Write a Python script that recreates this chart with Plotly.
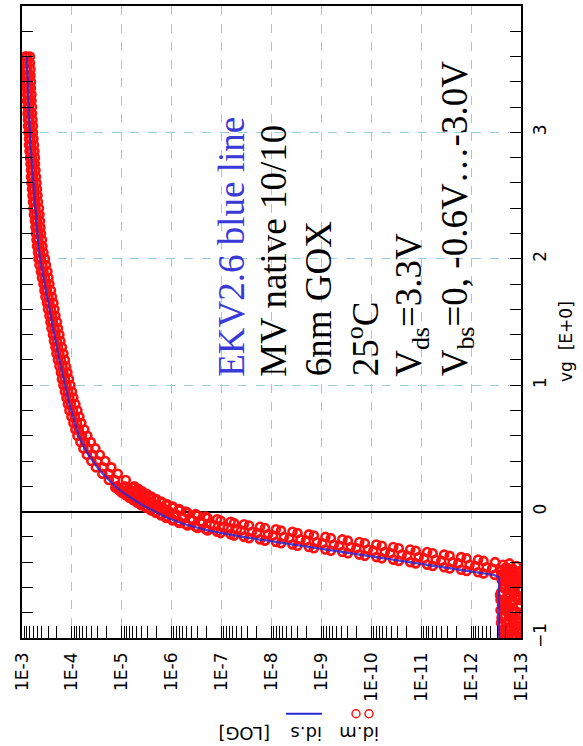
import numpy as np
import plotly.graph_objects as go

# ---------------- data: vg [V] and log10(id) ----------------
# measured gate-voltage grid: floor region, subthreshold (fine), strong inversion
vg_floor = [-1.00, -0.98, -0.96, -0.94, -0.92, -0.90, -0.88, -0.86, -0.84, -0.82,
            -0.80, -0.78, -0.76, -0.74, -0.72, -0.70, -0.68, -0.66, -0.64, -0.62,
            -0.60, -0.58, -0.56]
vg_sub = [-0.55, -0.54, -0.53, -0.52, -0.51,
          -0.50, -0.49, -0.48, -0.47, -0.46, -0.45, -0.44, -0.43, -0.42, -0.41,
          -0.40, -0.39, -0.38, -0.37, -0.36, -0.35, -0.34, -0.33, -0.32, -0.31,
          -0.30, -0.29, -0.28, -0.27, -0.26, -0.25, -0.24, -0.23, -0.22, -0.21,
          -0.20, -0.19, -0.18, -0.17, -0.16, -0.15, -0.14, -0.13, -0.12, -0.11,
          -0.10, -0.09, -0.08, -0.07, -0.06, -0.05, -0.04, -0.03, -0.02, -0.01,
          0.00, 0.01, 0.02, 0.03, 0.04, 0.05, 0.06, 0.07, 0.08, 0.09,
          0.10, 0.11, 0.12, 0.13, 0.14, 0.15, 0.16, 0.17, 0.18, 0.19,
          0.20]
vg_on = [0.25, 0.30, 0.35, 0.40, 0.45,
         0.50, 0.55, 0.60, 0.65, 0.70, 0.75, 0.80, 0.85, 0.90, 0.95,
         1.00, 1.05, 1.10, 1.15, 1.20, 1.25, 1.30, 1.35, 1.40, 1.45,
         1.50, 1.55, 1.60, 1.65, 1.70, 1.75, 1.80, 1.85, 1.90, 1.95,
         2.00, 2.05, 2.10, 2.15, 2.20, 2.25, 2.30, 2.35, 2.40, 2.45,
         2.50, 2.55, 2.60, 2.65, 2.70, 2.75, 2.80, 2.85, 2.90, 2.95,
         3.00, 3.05, 3.10, 3.15, 3.20, 3.25, 3.30, 3.35, 3.40, 3.45,
         3.50, 3.55, 3.60]

# measured id (three bulk biases), log10
m1_floor = [-12.82, -12.66, -12.93, -12.71, -12.88, -12.62, -12.95, -12.74, -12.85, -12.68,
            -12.90, -12.59, -12.77, -12.97, -12.64, -12.83, -12.72, -12.92, -12.60, -12.79,
            -12.87, -12.67, -12.94]
m1_sub = [-12.74, -12.61, -12.88, -12.67, -12.95,
          -12.47, -12.25, -12.14, -11.91, -11.80, -11.57, -11.46, -11.23, -11.12, -10.89,
          -10.78, -10.55, -10.44, -10.21, -10.10, -9.87, -9.76, -9.53, -9.42, -9.19,
          -9.08, -8.85, -8.75, -8.52, -8.42, -8.19, -8.09, -7.87, -7.77, -7.55,
          -7.45, -7.25, -7.18, -6.98, -6.91, -6.72, -6.68, -6.52, -6.48, -6.32,
          -6.28, -6.15, -6.15, -6.02, -6.02, -5.89, -5.90, -5.79, -5.79, -5.68,
          -5.69, -5.58, -5.59, -5.49, -5.50, -5.39, -5.41, -5.31, -5.33, -5.23,
          -5.25, -5.15, -5.17, -5.08, -5.10, -5.00, -5.03, -4.94, -4.96, -4.87,
          -4.90]
m1_on = [-4.74, -4.61, -4.48, -4.39, -4.30,
         -4.23, -4.17, -4.11, -4.07, -4.03, -3.99, -3.95, -3.92, -3.89, -3.86,
         -3.83, -3.80, -3.78, -3.75, -3.72, -3.69, -3.67, -3.64, -3.62, -3.59,
         -3.57, -3.55, -3.52, -3.50, -3.47, -3.45, -3.43, -3.40, -3.38, -3.35,
         -3.33, -3.32, -3.30, -3.29, -3.28, -3.27, -3.26, -3.24, -3.23, -3.22,
         -3.21, -3.20, -3.19, -3.18, -3.18, -3.17, -3.16, -3.15, -3.14, -3.14,
         -3.13, -3.12, -3.12, -3.11, -3.11, -3.10, -3.10, -3.09, -3.09, -3.08,
         -3.08, -3.07, -3.07]

m2_floor = [-12.75, -12.90, -12.64, -12.97, -12.70, -12.86, -12.60, -12.92, -12.78, -12.66,
            -12.84, -12.73, -12.96, -12.62, -12.81, -12.69, -12.93, -12.58, -12.88, -12.76,
            -12.65, -12.91, -12.71]
m2_sub = [-12.81, -12.63, -12.92, -12.70, -12.86,
          -12.60, -12.97, -12.66, -12.84, -12.72, -12.42, -12.31, -12.08, -11.97, -11.74,
          -11.63, -11.40, -11.29, -11.06, -10.95, -10.72, -10.61, -10.38, -10.27, -10.04,
          -9.93, -9.70, -9.59, -9.36, -9.25, -9.02, -8.91, -8.69, -8.58, -8.36,
          -8.25, -8.03, -7.93, -7.71, -7.61, -7.39, -7.31, -7.12, -7.04, -6.85,
          -6.78, -6.62, -6.58, -6.42, -6.38, -6.22, -6.21, -6.09, -6.08, -5.96,
          -5.95, -5.84, -5.85, -5.73, -5.74, -5.63, -5.64, -5.53, -5.55, -5.44,
          -5.45, -5.35, -5.37, -5.27, -5.29, -5.19, -5.21, -5.11, -5.14, -5.04,
          -5.06]
m2_on = [-4.86, -4.74, -4.62, -4.51, -4.42,
         -4.33, -4.26, -4.20, -4.14, -4.10, -4.06, -4.02, -3.98, -3.95, -3.92,
         -3.89, -3.86, -3.83, -3.81, -3.78, -3.75, -3.72, -3.70, -3.67, -3.65,
         -3.62, -3.60, -3.58, -3.55, -3.53, -3.50, -3.48, -3.46, -3.43, -3.41,
         -3.38, -3.36, -3.35, -3.33, -3.32, -3.31, -3.30, -3.29, -3.27, -3.26,
         -3.25, -3.24, -3.23, -3.22, -3.21, -3.21, -3.20, -3.19, -3.18, -3.17,
         -3.17, -3.16, -3.15, -3.15, -3.14, -3.14, -3.13, -3.13, -3.12, -3.12,
         -3.11, -3.11, -3.10]

m3_floor = [-12.70, -12.84, -12.96, -12.63, -12.79, -12.91, -12.69, -12.83, -12.61, -12.94,
            -12.74, -12.87, -12.66, -12.98, -12.72, -12.59, -12.89, -12.77, -12.63, -12.95,
            -12.68, -12.82, -12.73]
m3_sub = [-12.69, -12.93, -12.62, -12.80, -12.96,
          -12.65, -12.87, -12.73, -12.98, -12.61, -12.83, -12.70, -12.91, -12.64, -12.77,
          -12.48, -12.25, -12.14, -11.91, -11.80, -11.57, -11.46, -11.23, -11.12, -10.89,
          -10.78, -10.55, -10.44, -10.21, -10.10, -9.87, -9.76, -9.53, -9.42, -9.19,
          -9.08, -8.85, -8.75, -8.52, -8.42, -8.19, -8.09, -7.87, -7.77, -7.55,
          -7.45, -7.25, -7.18, -6.98, -6.91, -6.72, -6.68, -6.52, -6.48, -6.32,
          -6.28, -6.15, -6.15, -6.02, -6.02, -5.89, -5.90, -5.79, -5.79, -5.68,
          -5.69, -5.58, -5.59, -5.49, -5.50, -5.39, -5.41, -5.31, -5.33, -5.23,
          -5.25]
m3_on = [-5.08, -4.92, -4.79, -4.67, -4.56,
         -4.47, -4.38, -4.31, -4.25, -4.19, -4.15, -4.11, -4.07, -4.03, -4.00,
         -3.97, -3.94, -3.91, -3.88, -3.86, -3.83, -3.80, -3.77, -3.75, -3.72,
         -3.70, -3.67, -3.65, -3.63, -3.60, -3.58, -3.55, -3.53, -3.51, -3.48,
         -3.46, -3.43, -3.41, -3.40, -3.38, -3.37, -3.36, -3.35, -3.34, -3.32,
         -3.31, -3.30, -3.29, -3.28, -3.27, -3.26, -3.26, -3.25, -3.24, -3.23,
         -3.22, -3.22, -3.21, -3.20, -3.20, -3.19, -3.19, -3.18, -3.18, -3.17,
         -3.17, -3.16, -3.16]

# EKV model (blue line)
model_vg = [-1.00, -0.52,
            -0.50, -0.45, -0.40, -0.35, -0.30, -0.25, -0.20, -0.15, -0.10, -0.05,
            0.00, 0.05, 0.10, 0.15, 0.20] + vg_on
logid_model = [-12.56, -12.56,
               -12.45, -11.60, -10.75, -9.90, -9.05, -8.22, -7.42, -6.75, -6.25, -5.92,
               -5.66, -5.42, -5.22, -5.03, -4.87, -4.74, -4.62, -4.51, -4.42, -4.33,
               -4.26, -4.20, -4.14, -4.10, -4.06, -4.02, -3.98, -3.95, -3.92, -3.89,
               -3.86, -3.83, -3.81, -3.78, -3.75, -3.72, -3.70, -3.67, -3.65, -3.62,
               -3.60, -3.58, -3.55, -3.53, -3.50, -3.48, -3.46, -3.43, -3.41, -3.38,
               -3.36, -3.35, -3.33, -3.32, -3.31, -3.30, -3.29, -3.27, -3.26, -3.25,
               -3.24, -3.23, -3.22, -3.21, -3.21, -3.20, -3.19, -3.18, -3.17, -3.17,
               -3.16, -3.15, -3.15, -3.14, -3.14, -3.13, -3.13, -3.12, -3.12, -3.11,
               -3.11, -3.10, -3.10]

decades = [3, 4, 5, 6, 7, 8, 9, 10, 11, 12, 13]
id_tick_vals = [10.0 ** -d for d in decades]
id_tick_text = ["1E-%d" % d for d in decades]

vg_meas = vg_floor + vg_sub + vg_on
measured = [m1_floor + m1_sub + m1_on,
            m2_floor + m2_sub + m2_on,
            m3_floor + m3_sub + m3_on]
for s in measured:
    assert len(s) == len(vg_meas), (len(s), len(vg_meas))
assert len(model_vg) == len(logid_model), (len(model_vg), len(logid_model))

# ---------------- layout geometry ----------------
W, H = 583, 746
L, R, T, B = 22, 521, 4, 638

def px(x):
    return (x - L) / (R - L)

def py(y):
    return (B - y) / (B - T)

RED = "#ff1010"
BLUE = "#2a2ad0"
GRID = "#9ccbdc"
TICKFONT = dict(family="DejaVu Sans", size=17, color="black")

fig = go.Figure()
for series in measured:
    fig.add_trace(go.Scatter(
        x=10.0 ** np.array(series), y=vg_meas, mode="markers",
        marker=dict(symbol="circle-open", size=8, color=RED, line=dict(width=2.6, color=RED)),
        hoverinfo="skip"))
fig.add_trace(go.Scatter(
    x=10.0 ** np.array(logid_model), y=model_vg, mode="lines",
    line=dict(color=BLUE, width=2.2), opacity=0.85, hoverinfo="skip"))

fig.update_layout(
    width=W, height=H, showlegend=False,
    margin=dict(l=L, r=W - R, t=T, b=H - B, pad=0),
    plot_bgcolor="white", paper_bgcolor="white",
)

fig.update_xaxes(
    type="log", range=[-3, -13],
    tickmode="array", tickvals=id_tick_vals, ticktext=id_tick_text,
    tickangle=-90, tickfont=TICKFONT, ticklabelstandoff=6,
    ticks="inside", ticklen=12, tickwidth=1.2, tickcolor="black",
    minor=dict(ticks="inside", ticklen=12, tickwidth=1.2, tickcolor="black",
               dtick="D1", showgrid=False),
    showline=True, linecolor="black", linewidth=1.5, mirror=True,
    showgrid=True, gridcolor=GRID, griddash="dash", gridwidth=1,
    zeroline=False,
)

fig.update_yaxes(
    range=[-1, 4], side="right", tickmode="linear", tick0=0, dtick=1,
    tickangle=-90, tickfont=TICKFONT, ticklabelstandoff=3,
    ticks="inside", ticklen=11, tickwidth=1.2, tickcolor="black",
    minor=dict(ticks="inside", ticklen=11, tickwidth=1.2, tickcolor="black",
               dtick=0.2, showgrid=False),
    showline=True, linecolor="black", linewidth=1.5, mirror="ticks",
    showgrid=True, gridcolor=GRID, griddash="dash", gridwidth=1,
    zeroline=True, zerolinecolor="black", zerolinewidth=1.5,
)

# rotated note, one annotation per line (column centre x in px)
note_lines = [
    ("<span style='color:#3a3ad6'>EKV2.6 blue line</span>", 232),
    ("MV native 10/10", 274),
    ("6nm GOX", 318),
    ("25<sup>o</sup>C", 363),
    ("V<sub>ds</sub>=3.3V", 412),
    ("V<sub>bs</sub>=0, -0.6V…-3.0V", 457),
]
for txt, cx in note_lines:
    fig.add_annotation(text=txt, xref="paper", yref="paper", x=px(cx), y=py(378),
                       xanchor="center", yanchor="bottom", showarrow=False, textangle=-90,
                       font=dict(family="Liberation Serif", size=37, color="black"))

fig.add_annotation(text="vg  [E+0]", xref="paper", yref="paper", x=px(566), y=py(341),
                   xanchor="center", yanchor="middle", showarrow=False, textangle=-90,
                   font=TICKFONT)

for txt, cx in (("id.m", 359.5), ("id.s", 306.5), ("[LOG]", 244.5)):
    fig.add_annotation(text=txt, xref="paper", yref="paper", x=px(cx), y=py(734),
                       xanchor="center", yanchor="middle", showarrow=False, textangle=180,
                       font=dict(family="DejaVu Sans", size=18, color="black"))

# legend symbols below the axis title
fig.add_shape(type="line", xref="paper", yref="paper", x0=px(286), x1=px(322),
              y0=py(714), y1=py(714), line=dict(color=BLUE, width=2))
for cx in (356, 369):
    fig.add_shape(type="circle", xref="paper", yref="paper",
                  x0=px(cx - 4), x1=px(cx + 4), y0=py(710), y1=py(718),
                  line=dict(color=RED, width=1.5))

fig.write_html("out.html")
